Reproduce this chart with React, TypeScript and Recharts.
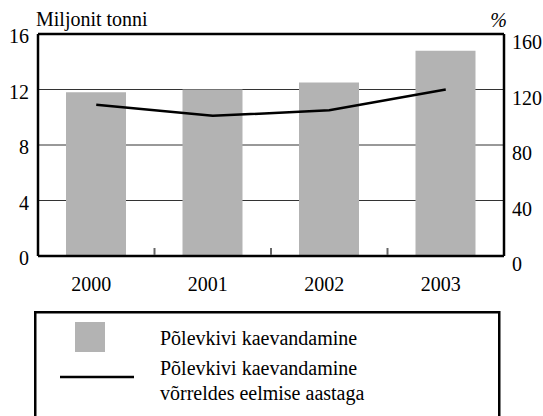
import React from 'react'
import {
  ComposedChart,
  Bar,
  Line,
  XAxis,
  YAxis,
  CartesianGrid,
  ReferenceLine,
  Legend,
} from 'recharts'

// andmed
const years = ['2000', '2001', '2002', '2003']
const mining = [11.8, 12.0, 12.5, 14.8] // miljonit tonni
const changePct = [109, 101, 105, 120] // % eelmise aastaga
const leftTicks = [0, 4, 8, 12, 16]
const rightTicks = [0, 40, 80, 120, 160]

const W = 543
const H = 416
const PLOT_LEFT = 38
const PLOT_RIGHT = 504
const PLOT_TOP = 34
const PLOT_BOTTOM = 256
const X_AXIS_H = 44
const BAND = (PLOT_RIGHT - PLOT_LEFT) / years.length
const GREY = '#b3b3b3'
const SERIF = 'Liberation Serif, DejaVu Serif'
const txt: React.CSSProperties = {
  fontFamily: SERIF,
  fontSize: 20,
}

const data = years.map((year, i) => ({
  year,
  mining: mining[i],
  change: changePct[i],
}))

const XTick = (props: any) => {
  const { x, y, payload, index } = props
  return (
    <g>
      <text x={x - 5} y={y + 35} textAnchor="middle" fontFamily={SERIF} fontSize={20} style={txt} fill="#000">
        {payload.value}
      </text>
      {index < years.length - 1 && (
        <line x1={x + BAND / 2} x2={x + BAND / 2} y1={y - 1} y2={y - 8} stroke="#666" strokeWidth={2} />
      )}
    </g>
  )
}

const LeftTick = (props: any) => (
  <text x={props.x - 7} y={props.y + 9} textAnchor="end" fontFamily={SERIF} fontSize={20} style={txt} fill="#000">
    {props.payload.value}
  </text>
)

const RightTick = (props: any) => (
  <text x={props.x + 6} y={props.y + 15} textAnchor="start" fontFamily={SERIF} fontSize={20} style={txt} fill="#000">
    {props.payload.value}
  </text>
)

const LegendBox = () => (
  <svg width={470} height={110} style={{ display: 'block' }}>
    <rect x={1.25} y={1.25} width={464} height={130} fill="#fff" stroke="#000" strokeWidth={2.5} />
    <rect x={41} y={11} width={30} height={30} fill={GREY} />
    <line x1={26} x2={100} y1={66} y2={66} stroke="#000" strokeWidth={2.5} />
    <g fontFamily={SERIF} fontSize={20} style={txt} fill="#000">
      <text x={126} y={34}>Põlevkivi kaevandamine</text>
      <text x={126} y={64}>Põlevkivi kaevandamine</text>
      <text x={126} y={89}>võrreldes eelmise aastaga</text>
    </g>
  </svg>
)

export default function App() {
  return (
    <div
      style={{
        position: 'absolute',
        left: 0,
        top: 0,
        width: W,
        height: H,
        overflow: 'hidden',
        background: '#fff',
        fontFamily: SERIF,
      }}
    >
      <ComposedChart
        width={W}
        height={H}
        data={data}
        margin={{ top: PLOT_TOP, right: 0, left: 0, bottom: H - PLOT_BOTTOM - X_AXIS_H }}
      >
        <CartesianGrid vertical={false} stroke="#333" strokeWidth={1} yAxisId="left" />
        <XAxis
          dataKey="year"
          height={X_AXIS_H}
          interval={0}
          tickLine={false}
          tickSize={0}
          tickMargin={0}
          axisLine={{ stroke: '#000', strokeWidth: 2.5 }}
          tick={<XTick />}
        />
        <YAxis
          yAxisId="left"
          width={PLOT_LEFT}
          domain={[0, 16]}
          ticks={leftTicks}
          tickLine={false}
          tickSize={0}
          axisLine={{ stroke: '#000', strokeWidth: 2.5 }}
          tick={<LeftTick />}
          label={{
            content: () => (
              <text x={36} y={26} fontFamily={SERIF} fontSize={20} style={txt} fill="#000">
                Miljonit tonni
              </text>
            ),
          }}
        />
        <YAxis
          yAxisId="right"
          orientation="right"
          width={W - PLOT_RIGHT}
          domain={[0, 160]}
          ticks={rightTicks}
          tickLine={false}
          tickSize={0}
          axisLine={{ stroke: '#000', strokeWidth: 2.5 }}
          tick={<RightTick />}
          label={{
            content: () => (
              <text x={507} y={27} textAnchor="end" fontFamily={SERIF} fontSize={20} fontStyle="italic" fill="#000">
                %
              </text>
            ),
          }}
        />
        <Bar yAxisId="left" dataKey="mining" fill={GREY} barSize={60} isAnimationActive={false} />
        <Line
          yAxisId="right"
          type="linear"
          dataKey="change"
          stroke="#000"
          strokeWidth={2.5}
          dot={false}
          activeDot={false}
          isAnimationActive={false}
        />
        <ReferenceLine yAxisId="left" y={16} stroke="#000" strokeWidth={2.5} />
        <Legend
          layout="horizontal"
          verticalAlign="middle"
          content={<LegendBox />}
          wrapperStyle={{ left: 34, top: 311, width: 470, height: 110 }}
        />
      </ComposedChart>
    </div>
  )
}
